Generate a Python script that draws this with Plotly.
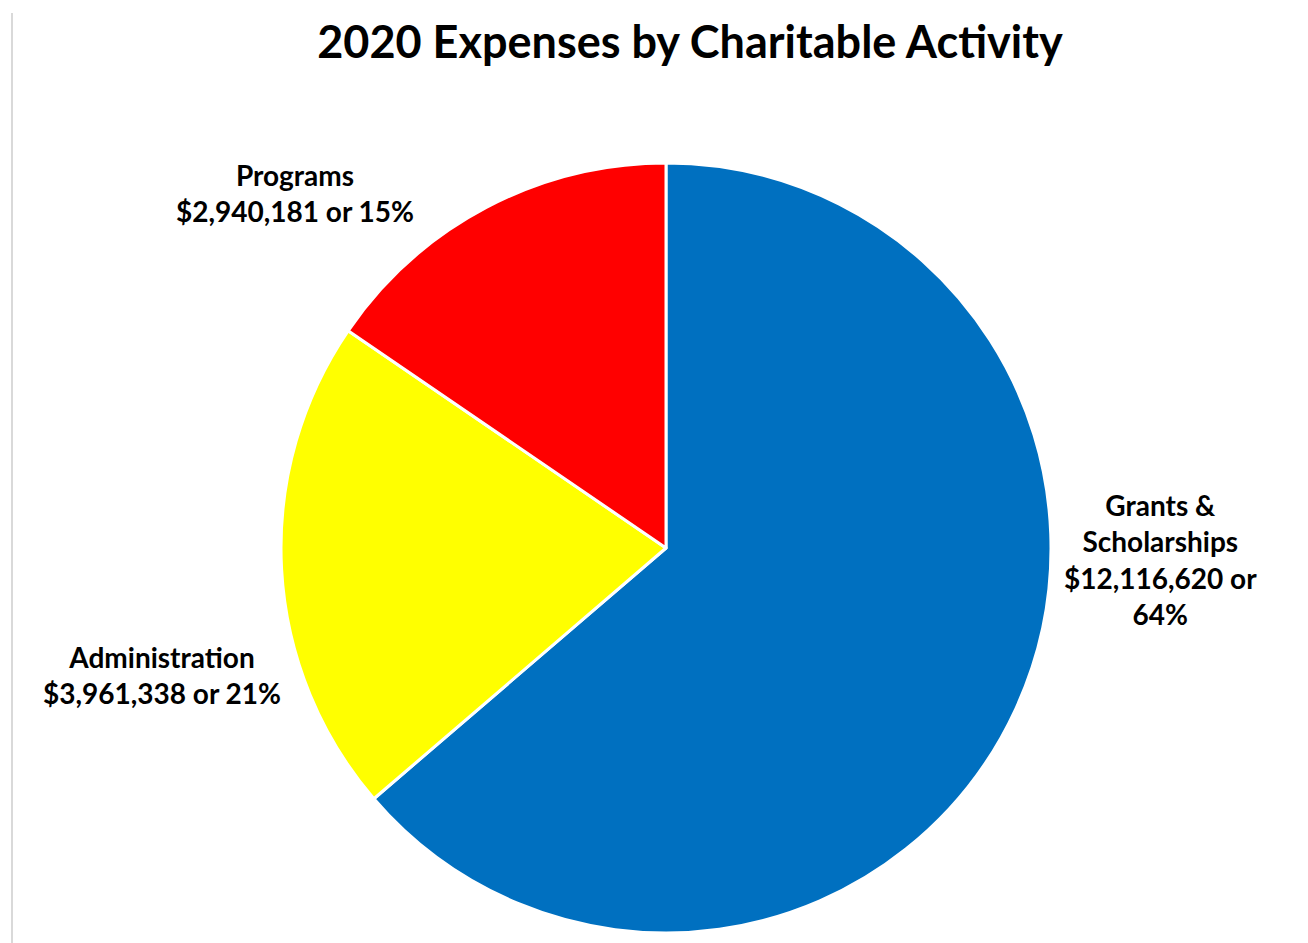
import plotly.graph_objects as go

categories = ["Grants & Scholarships", "Administration", "Programs"]
values = [12116620, 3961338, 2940181]
percent_labels = ["64%", "21%", "15%"]
colors = ["#0070C0", "#FFFF00", "#FF0000"]
title_text = "2020 Expenses by Charitable Activity"

W, H = 1308, 943
OFF = 8  # page body margin offset
cx, cy, R = 666 - OFF, 548 - OFF, 385

fig = go.Figure(go.Pie(
    labels=categories,
    values=values,
    sort=False,
    direction="clockwise",
    rotation=0,
    textinfo="none",
    hoverinfo="label+value+percent",
    marker=dict(colors=colors, line=dict(color="white", width=3)),
    domain=dict(x=[(cx - R) / W, (cx + R) / W], y=[1 - (cy + R) / H, 1 - (cy - R) / H]),
    showlegend=False,
))

label_text = {
    "Grants & Scholarships": "Grants &<br>Scholarships<br>${v:,} or<br>{p}",
    "Administration": "Administration<br>${v:,} or {p}",
    "Programs": "Programs<br>${v:,} or {p}",
}
label_pos = {
    "Grants & Scholarships": (1160, 559),
    "Administration": (162, 675),
    "Programs": (295, 193),
}

font_family = "Lato, 'Open Sans', sans-serif"
for cat, v, p in zip(categories, values, percent_labels):
    x, y = label_pos[cat]
    fig.add_annotation(
        x=(x - OFF) / W, y=1 - (y - OFF) / H, xref="paper", yref="paper",
        text="<b>" + label_text[cat].format(v=v, p=p) + "</b>",
        showarrow=False, xanchor="center", yanchor="middle", align="center",
        font=dict(family=font_family, size=28, color="black"),
    )

fig.add_shape(type="line", xref="paper", yref="paper",
              x0=(12 - OFF) / W, x1=(12 - OFF) / W, y0=0, y1=1 - (13 - OFF) / H,
              line=dict(color="#D9D9D9", width=2))

fig.update_layout(
    width=W, height=H,
    margin=dict(l=0, r=0, t=0, b=0),
    paper_bgcolor="white", plot_bgcolor="white",
    title=dict(text="<b>" + title_text + "</b>", x=(690 - OFF) / W, xanchor="center",
               y=1 - (42 - OFF) / H, yanchor="middle",
               font=dict(family=font_family, size=45, color="black")),
)

fig.write_html("out.html")
